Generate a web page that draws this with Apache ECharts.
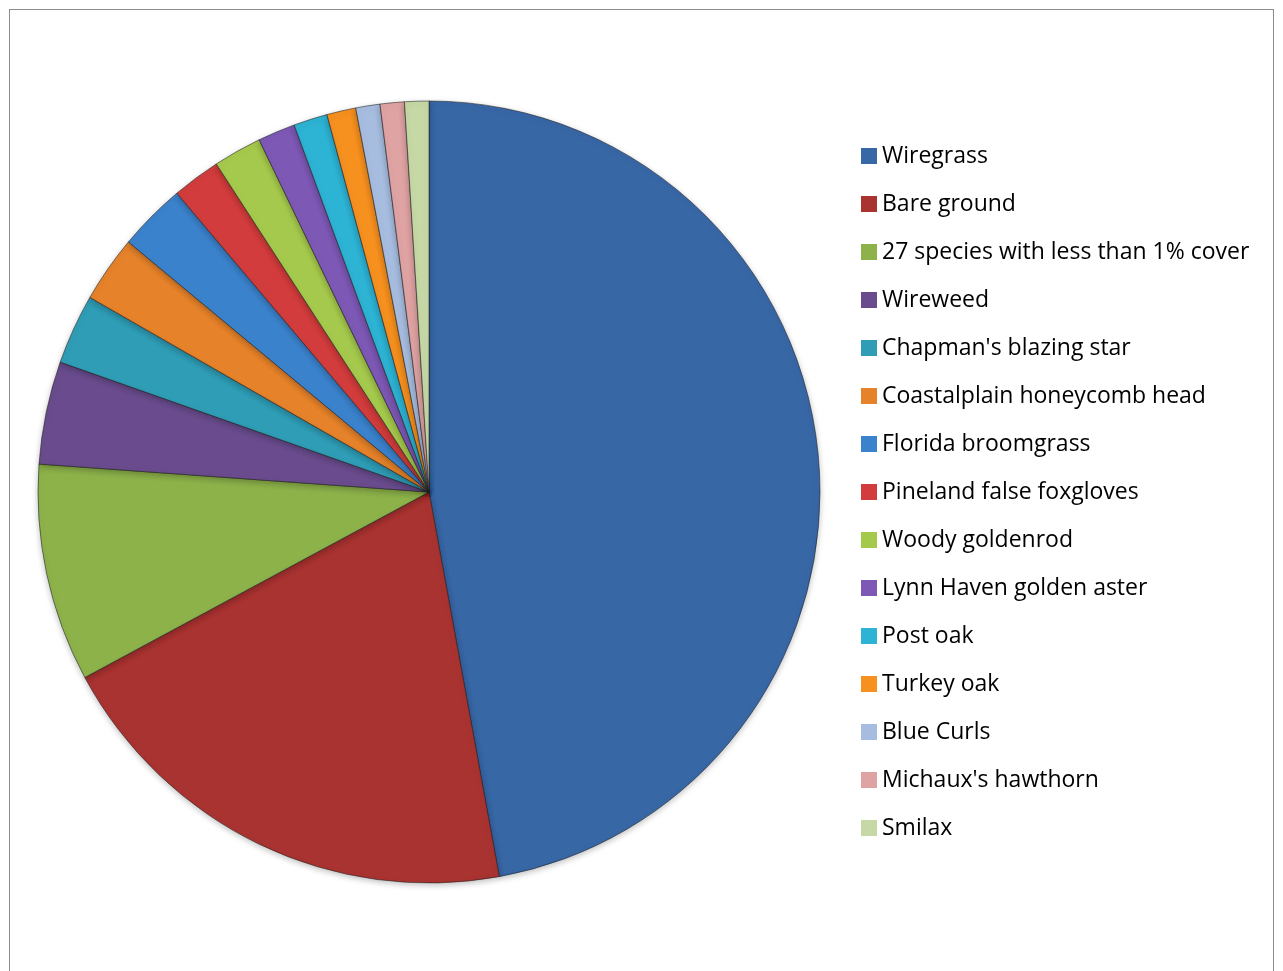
<!DOCTYPE html>
<html>
<head>
<meta charset="utf-8">
<script src="https://cdn.jsdelivr.net/npm/echarts@6/dist/echarts.min.js"></script>
<style>
  html, body { margin: 0; padding: 0; background: #fff; }
  #frame { position: absolute; left: 9px; top: 9px; width: 1265px; height: 980px; border: 1px solid #8c8c8c; box-sizing: border-box; }
  #chart { position: absolute; left: 0; top: 0; width: 1283px; height: 971px; }
</style>
</head>
<body>
<div id="frame"></div>
<div id="chart"></div>
<script>
// Ground cover, percent of plot
const categories = [
  'Wiregrass', 'Bare ground', '27 species with less than 1% cover', 'Wireweed',
  "Chapman's blazing star", 'Coastalplain honeycomb head', 'Florida broomgrass',
  'Pineland false foxgloves', 'Woody goldenrod', 'Lynn Haven golden aster',
  'Post oak', 'Turkey oak', 'Blue Curls', "Michaux's hawthorn", 'Smilax'
];
const cover = [47.1, 20.0, 9.0, 4.25, 2.9, 2.75, 2.8, 2.0, 2.0, 1.55, 1.4, 1.2, 1.0, 1.0, 1.0];

const sliceColors = [
  '#3867a6', '#a93331', '#8db24a', '#6a4c8e', '#2f9db6', '#e5822a',
  '#3b82cc', '#d23c3c', '#a5c94c', '#7d58b5', '#2db3d4', '#f6901f',
  '#a7bde0', '#e0a3a3', '#c5d8a5'
];

const data = categories.map((name, i) => ({
  name: name,
  value: cover[i],
  itemStyle: { color: sliceColors[i] }
}));

const chart = echarts.init(document.getElementById('chart'), null, { renderer: 'canvas' });
chart.setOption({
  animation: false,
  backgroundColor: 'transparent',
  legend: {
    orient: 'vertical',
    left: 861,
    top: 144,
    padding: 0,
    itemWidth: 16,
    itemHeight: 16,
    itemGap: 24,
    icon: 'rect',
    data: categories,
    itemStyle: { borderWidth: 0, shadowBlur: 0 },
    textStyle: {
      fontFamily: 'Open Sans',
      fontSize: 23,
      color: '#000',
      lineHeight: 24
    }
  },
  series: [{
    type: 'pie',
    center: [429, 492],
    radius: [0, 391],
    startAngle: 90,
    clockwise: true,
    label: { show: false },
    labelLine: { show: false },
    emphasis: { disabled: true },
    itemStyle: {
      borderColor: 'rgba(30,30,30,0.55)',
      borderWidth: 1,
      shadowBlur: 6,
      shadowColor: 'rgba(0,0,0,0.25)',
      shadowOffsetY: 2
    },
    data: data
  }]
});
</script>
</body>
</html>
